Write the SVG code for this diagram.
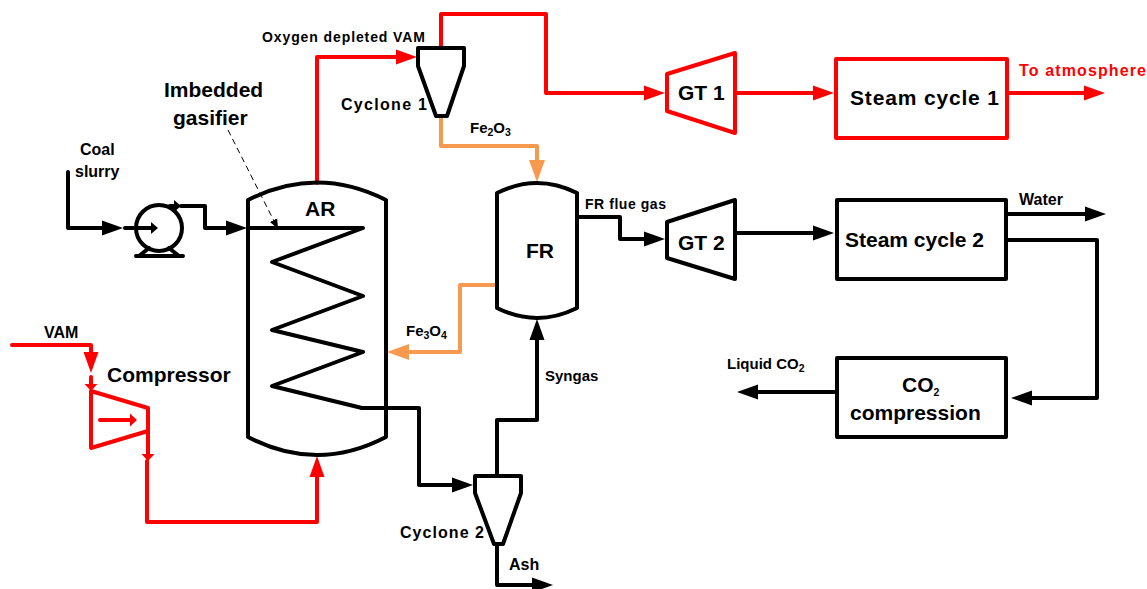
<svg xmlns="http://www.w3.org/2000/svg" width="1147" height="589" viewBox="0 0 1147 589">
<style>
text{font-family:"Liberation Sans",Arial,sans-serif;font-weight:bold;fill:#000}
.s21{font-size:21px}.s16{font-size:16px}.s15{font-size:15px}.s14{font-size:14px}
.eq{fill:#fff;stroke:#000;stroke-width:4;stroke-linejoin:round;stroke-linecap:round}
.eqr{fill:#fff;stroke:#f00;stroke-width:4;stroke-linejoin:round;stroke-linecap:round}
.c{fill:none;stroke:#000;stroke-width:4;stroke-linejoin:round;stroke-linecap:round}
.r{stroke:#f00}.o{stroke:#f79a50}
.sub{font-size:10.5px}
</style>
<defs>
<marker id="ak" markerUnits="userSpaceOnUse" markerWidth="22" markerHeight="16" refX="1" refY="8" orient="auto"><path d="M0 0.5L21 8L0 15.5z" fill="#000"/></marker>
<marker id="ar" markerUnits="userSpaceOnUse" markerWidth="22" markerHeight="16" refX="1" refY="8" orient="auto"><path d="M0 0.5L21 8L0 15.5z" fill="#f00"/></marker>
<marker id="ao" markerUnits="userSpaceOnUse" markerWidth="23" markerHeight="18" refX="1" refY="9" orient="auto"><path d="M0 1L22 9L0 17z" fill="#f79a50"/></marker>
<marker id="tk" markerUnits="userSpaceOnUse" markerWidth="8" markerHeight="14" refX="1" refY="7" orient="auto"><path d="M0 1L7 7L0 13z" fill="#000"/></marker>
<marker id="tr" markerUnits="userSpaceOnUse" markerWidth="8" markerHeight="14" refX="1" refY="7" orient="auto"><path d="M0 0.5L7 7L0 13.5z" fill="#f00"/></marker>
<marker id="dk" markerUnits="userSpaceOnUse" markerWidth="12" markerHeight="10" refX="1" refY="5" orient="auto"><path d="M0 1L10 5L0 9z" fill="#000"/></marker>
</defs>
<g id="connectors">
<path class="c" d="M68 172V228H103" marker-end="url(#ak)"/>
<path class="c" d="M125 228H152" marker-end="url(#tk)"/>
<path class="c" d="M170 206H175" marker-end="url(#tk)"/>
<path class="c" d="M181 206H205V228H227" marker-end="url(#ak)"/>
<path d="M228 130L274 221" fill="none" stroke="#000" stroke-width="1" stroke-dasharray="6 4" marker-end="url(#dk)"/>
<path class="c r" d="M12 345H91V353" marker-end="url(#ar)"/>
<path class="c r" d="M91 377V385" marker-end="url(#tr)"/>
<path class="c r" d="M148 431V455" marker-end="url(#tr)"/>
<path class="c r" d="M147 461V522H317V476" marker-end="url(#ar)"/>
<path class="c r" d="M317 183V57H397" marker-end="url(#ar)"/>
<path class="c r" d="M441 48V14H546V93H645" marker-end="url(#ar)"/>
<path class="c r" d="M735 93H814" marker-end="url(#ar)"/>
<path class="c r" d="M1007 93H1085" marker-end="url(#ar)"/>
<path class="c o" d="M441 116V146H537V161" marker-end="url(#ao)"/>
<path class="c o" d="M497 285H460V352H408" marker-end="url(#ao)"/>
<path class="c" d="M362 408H419V485H453" marker-end="url(#ak)"/>
<path class="c" d="M497 476V420H537V339" marker-end="url(#ak)"/>
<path class="c" d="M497 544V585H533" marker-end="url(#ak)"/>
<path class="c" d="M577 217H620V239H645" marker-end="url(#ak)"/>
<path class="c" d="M735 233H814" marker-end="url(#ak)"/>
<path class="c" d="M1006 214H1086" marker-end="url(#ak)"/>
<path class="c" d="M1006 240H1097V398H1031" marker-end="url(#ak)"/>
<path class="c" d="M837 392H757" marker-end="url(#ak)"/>
</g>
<g id="AR"><path class="c" d="M248 200Q317 165 386 200V437Q317 473 248 437Z"/>
<path class="c" d="M248 228H363L272 262L363 296L272 330L363 352L272 386L362 408"/><text class="s21" x="305" y="216">AR</text></g>
<g id="FR"><path class="c" d="M497 193Q537 173 577 193V308Q537 328 497 308Z"/><text class="s21" x="526" y="258">FR</text></g>
<g id="pump"><circle class="c" cx="159" cy="228" r="23"/><path class="c" d="M136 256H183M139 256L149 248M179 256L169 248"/></g>
<g id="compressor"><path class="c r" d="M91 391L148 408V431L91 448Z"/><path class="c r" d="M100 420H131" marker-end="url(#tr)"/><text class="s21" x="107" y="382">Compressor</text></g>
<g id="cyclone1"><path class="c" d="M418 48H464V66L447 116H436L418 66Z"/><text class="s16" x="341" y="110" textLength="86">Cyclone 1</text></g>
<g id="cyclone2"><path class="c" d="M475 476H521V493L503 544H494L475 493Z"/><text class="s16" x="400" y="538" textLength="84">Cyclone 2</text></g>
<g id="GT1"><path class="eqr" d="M667 74L735 53V133L667 111Z"/><text class="s21" x="678" y="100">GT 1</text></g>
<g id="GT2"><path class="eq" d="M667 222L735 200V279L667 258Z"/><text class="s21" x="678" y="250">GT 2</text></g>
<g id="steam1"><rect class="eqr" x="836" y="59" width="171" height="79"/><text class="s21" x="850" y="105" textLength="149">Steam cycle 1</text></g>
<g id="steam2"><rect class="eq" x="837" y="200" width="169" height="79"/><text class="s21" x="845" y="247">Steam cycle 2</text></g>
<g id="co2comp"><rect class="eq" x="837" y="358" width="169" height="79"/><text class="s21" x="902" y="392">CO<tspan class="sub" font-size="14" dy="4">2</tspan></text><text class="s21" x="850" y="420">compression</text></g>
<g id="labels">
<text class="s14" x="262" y="42" textLength="163">Oxygen depleted VAM</text>
<text class="s21" x="164" y="97">Imbedded</text>
<text class="s21" x="173" y="125">gasifier</text>
<text class="s16" x="80" y="155">Coal</text>
<text class="s16" x="75" y="177">slurry</text>
<text class="s16" x="44" y="338">VAM</text>
<text class="s15" x="470" y="133">Fe<tspan class="sub" dy="3">2</tspan><tspan dy="-3">O</tspan><tspan class="sub" dy="3">3</tspan></text>
<text class="s15" x="406" y="336">Fe<tspan class="sub" dy="3">3</tspan><tspan dy="-3">O</tspan><tspan class="sub" dy="3">4</tspan></text>
<text class="s14" x="585" y="209" textLength="81">FR flue gas</text>
<text class="s15" x="545" y="381">Syngas</text>
<text class="s16" x="509" y="570">Ash</text>
<text class="s16" x="1019" y="205">Water</text>
<text class="s15" x="727" y="369">Liquid CO<tspan class="sub" dy="3">2</tspan></text>
<text class="s16" x="1019" y="76" style="fill:#f00" textLength="127">To atmosphere</text>
</g>
</svg>
